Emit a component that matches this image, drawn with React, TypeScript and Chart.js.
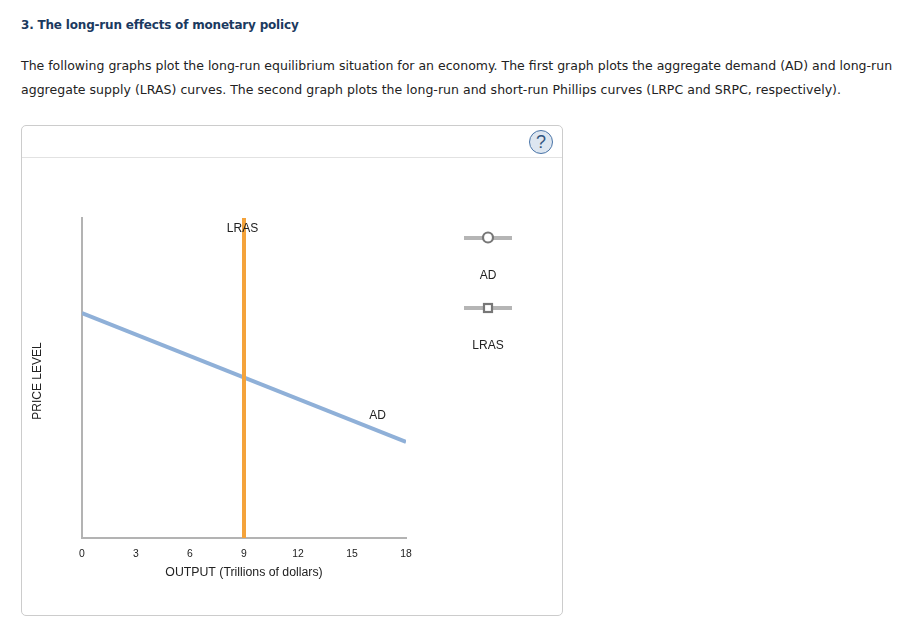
import React, { useEffect, useRef } from "react";
import { Chart, registerables } from "chart.js";

Chart.register(...registerables);

const xTicks = [0, 3, 6, 9, 12, 15, 18];
const adX = [0, 18];
const adY = [70.3, 30];
const lrasX = [9, 9];
const lrasY = [0, 100];
const curveLabels = [
  { text: "LRAS", x: 9, y: 96.7 },
  { text: "AD", x: 16.5, y: 38.2 },
];
const legendItems = [
  { text: "AD", shape: "circle" },
  { text: "LRAS", shape: "square" },
];
const xTitle = "OUTPUT (Trillions of dollars)";
const yTitle = "PRICE LEVEL";
const heading = "3. The long-run effects of monetary policy";
const para1 = "The following graphs plot the long-run equilibrium situation for an economy. The first graph plots the aggregate demand (AD) and long-run";
const para2 = "aggregate supply (LRAS) curves. The second graph plots the long-run and short-run Phillips curves (LRPC and SRPC, respectively).";

const LABEL_FONT = '"Liberation Sans", Arial, sans-serif';
const BODY_FONT = '"DejaVu Sans", Verdana, sans-serif';

const annotations = {
  id: "annotations",
  afterDatasetsDraw(chart: any) {
    const { ctx, scales } = chart;
    ctx.save();
    ctx.fillStyle = "#222";
    ctx.font = `12px ${LABEL_FONT}`;
    ctx.textAlign = "center";
    ctx.textBaseline = "middle";
    curveLabels.forEach((l) => {
      ctx.fillText(l.text, scales.x.getPixelForValue(l.x) - 1.5, scales.y.getPixelForValue(l.y));
    });
    ctx.save();
    ctx.translate(38, 381);
    ctx.rotate(-Math.PI / 2);
    ctx.fillText(yTitle, 0, 0);
    ctx.restore();
    legendItems.forEach((item, i) => {
      const cy = 238 + i * 70;
      ctx.strokeStyle = "#b5b5b5";
      ctx.lineWidth = 4;
      ctx.beginPath();
      ctx.moveTo(464, cy);
      ctx.lineTo(512, cy);
      ctx.stroke();
      ctx.fillStyle = "#fff";
      ctx.strokeStyle = "#777";
      ctx.lineWidth = 2.2;
      if (item.shape === "circle") {
        ctx.beginPath();
        ctx.arc(488, cy - 0.5, 5, 0, Math.PI * 2);
        ctx.fill();
        ctx.stroke();
      } else {
        ctx.fillRect(484, cy - 4, 8, 8);
        ctx.strokeRect(484, cy - 4, 8, 8);
      }
      ctx.fillStyle = "#222";
      ctx.fillText(item.text, 488, cy + 38);
    });
    ctx.restore();
  },
};

export default function App() {
  const ref = useRef<HTMLCanvasElement>(null);
  useEffect(() => {
    document.body.style.margin = "0";
    const chart = new Chart(ref.current!, {
      type: "scatter",
      data: {
        datasets: [
          {
            label: "LRAS",
            data: lrasX.map((x, i) => ({ x, y: lrasY[i] })),
            showLine: true,
            borderColor: "#f4a33b",
            borderWidth: 4,
            pointRadius: 0,
            order: 1,
          },
          {
            label: "AD",
            data: adX.map((x, i) => ({ x, y: adY[i] })),
            showLine: true,
            borderColor: "#8fb0d8",
            borderWidth: 4,
            pointRadius: 0,
            order: 2,
          },
        ],
      },
      options: {
        animation: false,
        responsive: false,
        layout: { padding: { left: 0, right: 499, top: 218, bottom: 0 } },
        plugins: { legend: { display: false }, tooltip: { enabled: false } },
        scales: {
          x: {
            type: "linear",
            min: 0,
            max: 18,
            afterFit: (s: any) => {
              s.height = 96;
            },
            afterBuildTicks: (s: any) => {
              s.ticks = xTicks.map((value) => ({ value }));
            },
            grid: { display: false, drawTicks: false },
            border: { color: "#b3b3b3", width: 2 },
            ticks: {
              color: "#222",
              font: { family: LABEL_FONT, size: 10.4 },
              padding: 10,
              maxRotation: 0,
              autoSkip: false,
            },
            title: {
              display: true,
              text: xTitle,
              color: "#222",
              font: { family: LABEL_FONT, size: 12.3 },
              padding: { top: 3, bottom: 54 },
            },
          },
          y: {
            type: "linear",
            min: 0,
            max: 100,
            afterFit: (s: any) => {
              s.width = 82;
            },
            grid: { display: false, drawTicks: false },
            border: { color: "#b3b3b3", width: 2 },
            ticks: { display: false },
          },
        },
      },
      plugins: [annotations],
    } as any);
    return () => chart.destroy();
  }, []);

  const textLine = (t: string, top: number, extra: React.CSSProperties = {}) => (
    <div
      style={{
        position: "absolute",
        left: 21,
        top,
        whiteSpace: "nowrap",
        fontFamily: BODY_FONT,
        fontSize: 12.5,
        lineHeight: "16px",
        color: "#222",
        ...extra,
      }}
    >
      {t}
    </div>
  );

  return (
    <div style={{ position: "absolute", left: 0, top: 0, width: 905, height: 634, overflow: "hidden", background: "#fff" }}>
      {textLine(heading, 17, { fontWeight: "bold", color: "#1b3a5f", fontSize: 12, letterSpacing: "-0.19px" })}
      {textLine(para1, 58)}
      {textLine(para2, 82, { letterSpacing: "0.03px" })}
      <div
        style={{
          position: "absolute",
          left: 21,
          top: 125,
          width: 540,
          height: 489,
          border: "1px solid #cccccc",
          borderRadius: 5,
        }}
      />
      <div style={{ position: "absolute", left: 22, top: 157, width: 540, height: 1, background: "#e2e2e2" }} />
      <div
        style={{
          position: "absolute",
          left: 529,
          top: 130,
          width: 22,
          height: 22,
          borderRadius: "50%",
          border: "1.5px solid #4a75a8",
          background: "#dde6f0",
          color: "#33557f",
          fontFamily: LABEL_FONT,
          fontSize: 18,
          lineHeight: "22px",
          textAlign: "center",
        }}
      >
        ?
      </div>
      <canvas ref={ref} width={905} height={634} style={{ position: "absolute", left: 0, top: 0 }} />
    </div>
  );
}
